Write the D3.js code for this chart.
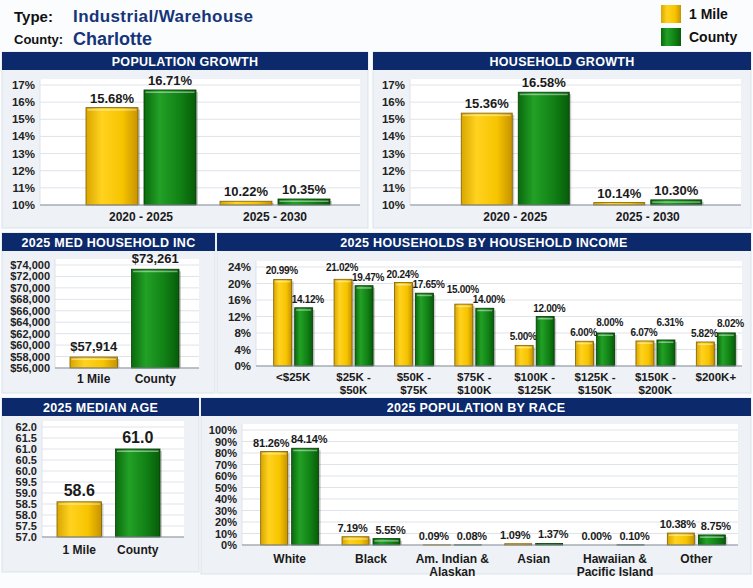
<!DOCTYPE html>
<html>
<head>
<meta charset="utf-8">
<script src="https://cdn.jsdelivr.net/npm/d3@7"></script>
<style>
  body { margin: 0; background: #fbfcfd; }
  svg { display: block; font-family: "Liberation Sans", Arial, sans-serif; }
</style>
</head>
<body>
<div id="chart"></div>
<script>

// chart data
let seriesNames = ["1 Mile", "County"]
let seriesColours = ["yellow", "green"]

let growthPeriods = ["2020 - 2025", "2025 - 2030"]
let popGrowth1Mile = [15.68, 10.22]
let popGrowthCounty = [16.71, 10.35]
let hhGrowth1Mile = [15.36, 10.14]
let hhGrowthCounty = [16.58, 10.30]
let growthTicks = [10, 11, 12, 13, 14, 15, 16, 17]

let medIncome = [57914, 73261]
let medIncomeTicks = [56000, 58000, 60000, 62000, 64000, 66000, 68000, 70000, 72000, 74000]

let incomeBrackets = ["<$25K", "$25K -\n$50K", "$50K -\n$75K", "$75K -\n$100K", "$100K -\n$125K", "$125K -\n$150K", "$150K -\n$200K", "$200K+"]
let incomeShare1Mile = [20.99, 21.02, 20.24, 15.00, 5.00, 6.00, 6.07, 5.82]
let incomeShareCounty = [14.12, 19.47, 17.65, 14.00, 12.00, 8.00, 6.31, 8.02]
let incomeShareTicks = [0, 4, 8, 12, 16, 20, 24]

let medAge = [58.6, 61.0]
let medAgeTicks = [57.0, 57.5, 58.0, 58.5, 59.0, 59.5, 60.0, 60.5, 61.0, 61.5, 62.0]

let races = ["White", "Black", "Am. Indian &\nAlaskan", "Asian", "Hawaiian &\nPacific Island", "Other"]
let race1Mile = [81.26, 7.19, 0.09, 1.09, 0.00, 10.38]
let raceCounty = [84.14, 5.55, 0.08, 1.37, 0.10, 8.75]
let raceTicks = [0, 10, 20, 30, 40, 50, 60, 70, 80, 90, 100]

let svg = d3.select("#chart")
    .append("svg")
        .attr("width", 753)
        .attr("height", 588)

// bar gradients
let defs = svg.append("defs")
let gradStops = {
    yellow: ["#d9a600", "#ffd21f", "#f7c400", "#c79300"],
    green: ["#0a6a0d", "#22a126", "#118015", "#075c09"]
}
Object.entries(gradStops).forEach(([key, stops]) => {
    let grad = defs.append("linearGradient").attr("id", "grad-" + key)
    stops.forEach((c, i) => {
        grad.append("stop").attr("offset", [0, 0.3, 0.7, 1][i]).attr("stop-color", c)
    })
})
let strokeColour = { yellow: "#7d5f00", green: "#063806" }

// header
let header = svg.append("g")
header.append("text").attr("x", 14).attr("y", 22).attr("font-size", 15).attr("font-weight", "bold")
    .attr("fill", "#111").text("Type:")
header.append("text").attr("x", 73).attr("y", 22).attr("font-size", 17).attr("font-weight", "bold")
    .attr("fill", "#15357a").attr("textLength", 180).text("Industrial/Warehouse")
header.append("text").attr("x", 14).attr("y", 44).attr("font-size", 13).attr("font-weight", "bold")
    .attr("fill", "#111").text("County:")
header.append("text").attr("x", 73).attr("y", 45).attr("font-size", 18).attr("font-weight", "bold")
    .attr("fill", "#15357a").text("Charlotte")

// legend
let legend = svg.append("g").attr("transform", "translate(661, 5)")
seriesNames.forEach((name, i) => {
    legend.append("rect").attr("x", 0).attr("y", i * 23).attr("width", 20).attr("height", 18)
        .attr("fill", "url(#grad-" + seriesColours[i] + ")")
    legend.append("text").attr("x", 28).attr("y", i * 23 + 14).attr("font-size", 14)
        .attr("font-weight", "bold").attr("fill", "#111").text(name)
})

function drawPanel(p) {
    let g = svg.append("g")
    g.append("rect").attr("x", p.x).attr("y", p.y).attr("width", p.w).attr("height", p.h)
        .attr("fill", "#eef1f5").attr("stroke", "#dde2e9")
    g.append("rect").attr("x", p.x).attr("y", p.y).attr("width", p.w).attr("height", 18)
        .attr("fill", "#0c2a6b")
    g.append("text").attr("x", p.x + p.w / 2).attr("y", p.y + 13.5).attr("text-anchor", "middle")
        .attr("font-size", 12.5).attr("font-weight", "bold").attr("fill", "#fff")
        .attr("letter-spacing", 0.3).text(p.title)
    return g
}

function drawAxis(g, y, plot, ticks, fmt, fontSize) {
    g.append("rect").attr("x", plot.left).attr("y", plot.top - 6)
        .attr("width", plot.right - plot.left).attr("height", plot.bottom - plot.top + 6)
        .attr("fill", "#fff")
    g.selectAll(".grid").data(ticks).join("line")
        .attr("x1", plot.left).attr("x2", plot.right)
        .attr("y1", d => y(d)).attr("y2", d => y(d))
        .attr("stroke", "#dfe3ea")
    g.append("line").attr("x1", plot.left).attr("x2", plot.left)
        .attr("y1", plot.top - 6).attr("y2", plot.bottom).attr("stroke", "#dfe3ea")
    g.selectAll(".tick-label").data(ticks).join("text")
        .attr("x", plot.left - 5).attr("y", d => y(d) + 4)
        .attr("text-anchor", "end").attr("font-size", fontSize).attr("font-weight", "bold")
        .attr("fill", "#222").text(fmt)
}

function drawBar(g, x, yTop, w, h, colour) {
    g.append("rect").attr("x", x + 2).attr("y", yTop + 2).attr("width", w).attr("height", Math.max(h - 2, 0))
        .attr("fill", "rgba(0,0,0,0.2)")
    g.append("rect").attr("x", x).attr("y", yTop).attr("width", w).attr("height", h)
        .attr("fill", "url(#grad-" + colour + ")").attr("stroke", strokeColour[colour]).attr("stroke-width", 0.8)
    if (h > 4) {
        g.append("rect").attr("x", x + 1.5).attr("y", yTop + 1.5).attr("width", w - 3).attr("height", 1.5)
            .attr("fill", "rgba(255,255,255,0.45)")
    }
}

function multiLine(sel, lineHeight) {
    sel.each(function(d) {
        let t = d3.select(this)
        d.split("\n").forEach((line, i) => {
            t.append("tspan").attr("x", t.attr("x")).attr("dy", i == 0 ? 0 : lineHeight).text(line)
        })
    })
}

// grouped chart: several categories, one bar per series
function groupedChart(opt) {
    let g = drawPanel(opt.panel)
    let plot = opt.plot
    let y = d3.scaleLinear().domain(opt.domain).range([plot.bottom, plot.top])
    drawAxis(g, y, plot, opt.ticks, opt.tickFormat, opt.tickSize)

    let x0 = d3.scaleBand().domain(opt.categories).range(opt.groupRange)
    let groupW = opt.barWidth * 2 + opt.barGap
    let x1 = d3.scaleBand().domain(seriesNames)
        .range([(x0.bandwidth() - groupW) / 2, (x0.bandwidth() + groupW) / 2])
        .paddingInner(opt.barGap / (opt.barWidth + opt.barGap))

    opt.categories.forEach((cat, ci) => {
        let labels = []
        seriesNames.forEach((s, si) => {
            let v = opt.values[si][ci]
            let bx = x0(cat) + x1(s)
            drawBar(g, bx, y(v), x1.bandwidth(), y(opt.domain[0]) - y(v), seriesColours[si])
            labels.push(g.append("text").attr("x", bx + x1.bandwidth() / 2 + opt.labelShift[si])
                .attr("y", y(v) - 5).attr("text-anchor", "middle")
                .attr("font-size", opt.valueSize).attr("font-weight", "bold").attr("fill", "#1a1a1a")
                .attr("letter-spacing", opt.valueSpacing || 0)
                .text(opt.valueFormat(v)))
        })
        // lift the higher label when the pair would collide
        let a = labels[0].node().getBBox(), b = labels[1].node().getBBox()
        let overlapX = a.x + a.width > b.x + 1
        let ya = +labels[0].attr("y"), yb = +labels[1].attr("y")
        if (overlapX && Math.abs(ya - yb) < opt.valueSize) {
            if (ya <= yb) labels[0].attr("y", yb - opt.valueSize)
            else labels[1].attr("y", ya - opt.valueSize)
        }
    })

    g.append("line").attr("x1", plot.left).attr("x2", plot.right)
        .attr("y1", plot.bottom).attr("y2", plot.bottom).attr("stroke", "#8a929c").attr("stroke-width", 1.2)

    g.selectAll(".cat").data(opt.categories).join("text")
        .attr("x", d => x0(d) + x0.bandwidth() / 2).attr("y", plot.bottom + opt.catOffset)
        .attr("text-anchor", "middle").attr("font-size", opt.catSize).attr("font-weight", "bold")
        .attr("fill", "#1a1a1a")
        .call(multiLine, opt.catSize + 1)
}

// single chart: one bar per series
function singleChart(opt) {
    let g = drawPanel(opt.panel)
    let plot = opt.plot
    let y = d3.scaleLinear().domain(opt.domain).range([plot.bottom, plot.top])
    drawAxis(g, y, plot, opt.ticks, opt.tickFormat, opt.tickSize)

    let x = d3.scaleBand().domain(seriesNames).range(opt.barRange).paddingInner(opt.padding)

    seriesNames.forEach((s, si) => {
        let v = opt.values[si]
        drawBar(g, x(s), y(v), x.bandwidth(), y(opt.domain[0]) - y(v), seriesColours[si])
        g.append("text").attr("x", x(s) + x.bandwidth() / 2).attr("y", y(v) - 6)
            .attr("text-anchor", "middle").attr("font-size", opt.valueSize).attr("font-weight", "bold")
            .attr("fill", "#1a1a1a").text(opt.valueFormat(v))
    })

    g.append("line").attr("x1", plot.left).attr("x2", plot.right)
        .attr("y1", plot.bottom).attr("y2", plot.bottom).attr("stroke", "#8a929c").attr("stroke-width", 1.2)

    g.selectAll(".cat").data(seriesNames).join("text")
        .attr("x", d => x(d) + x.bandwidth() / 2).attr("y", plot.bottom + opt.catOffset)
        .attr("text-anchor", "middle").attr("font-size", 12).attr("font-weight", "bold")
        .attr("fill", "#1a1a1a").text(d => d)
}

let pct = d => d + "%"
let pct2 = d => d.toFixed(2) + "%"
let dollars = d3.format("$,")

groupedChart({
    panel: { x: 2, y: 52, w: 366, h: 176, title: "POPULATION GROWTH" },
    plot: { left: 40, right: 360, top: 85, bottom: 205 },
    domain: [10, 17], ticks: growthTicks, tickFormat: pct, tickSize: 11.5,
    categories: growthPeriods, values: [popGrowth1Mile, popGrowthCounty],
    groupRange: [74, 342], barWidth: 52, barGap: 6, labelShift: [0, 0],
    valueSize: 13, valueFormat: pct2, catSize: 12, catOffset: 16
})

groupedChart({
    panel: { x: 373, y: 52, w: 378, h: 176, title: "HOUSEHOLD GROWTH" },
    plot: { left: 410, right: 741, top: 85, bottom: 205 },
    domain: [10, 17], ticks: growthTicks, tickFormat: pct, tickSize: 11.5,
    categories: growthPeriods, values: [hhGrowth1Mile, hhGrowthCounty],
    groupRange: [449, 714], barWidth: 51, barGap: 6, labelShift: [0, 0],
    valueSize: 13, valueFormat: pct2, catSize: 12, catOffset: 16
})

singleChart({
    panel: { x: 2, y: 233, w: 213, h: 160, title: "2025 MED HOUSEHOLD INC" },
    plot: { left: 55, right: 199, top: 265, bottom: 368 },
    domain: [56000, 74000], ticks: medIncomeTicks, tickFormat: dollars, tickSize: 11,
    values: medIncome, barRange: [70, 179], padding: 0.23,
    valueSize: 13, valueFormat: dollars, catOffset: 15
})

groupedChart({
    panel: { x: 217, y: 233, w: 534, h: 160, title: "2025 HOUSEHOLDS BY HOUSEHOLD INCOME" },
    plot: { left: 256, right: 742, top: 267, bottom: 366 },
    domain: [0, 24], ticks: incomeShareTicks, tickFormat: pct, tickSize: 11.5,
    categories: incomeBrackets, values: [incomeShare1Mile, incomeShareCounty],
    groupRange: [263, 746], barWidth: 18, barGap: 3, labelShift: [-1, 4],
    valueSize: 10, valueSpacing: -0.3, valueFormat: pct2, catSize: 11.5, catOffset: 15
})

singleChart({
    panel: { x: 2, y: 398, w: 197, h: 174, title: "2025 MEDIAN AGE" },
    plot: { left: 42, right: 184, top: 427, bottom: 537 },
    domain: [57, 62], ticks: medAgeTicks, tickFormat: d => d.toFixed(1), tickSize: 11,
    values: medAge, barRange: [57, 160], padding: 0.24,
    valueSize: 16, valueFormat: d => d.toFixed(1), catOffset: 17
})

groupedChart({
    panel: { x: 201, y: 398, w: 550, h: 176, title: "2025 POPULATION BY RACE" },
    plot: { left: 242, right: 738, top: 430, bottom: 545 },
    domain: [0, 100], ticks: raceTicks, tickFormat: pct, tickSize: 11,
    categories: races, values: [race1Mile, raceCounty],
    groupRange: [249, 737], barWidth: 27, barGap: 4, labelShift: [-3, 4],
    valueSize: 11, valueSpacing: -0.2, valueFormat: pct2, catSize: 12, catOffset: 18
})

</script>
</body>
</html>
